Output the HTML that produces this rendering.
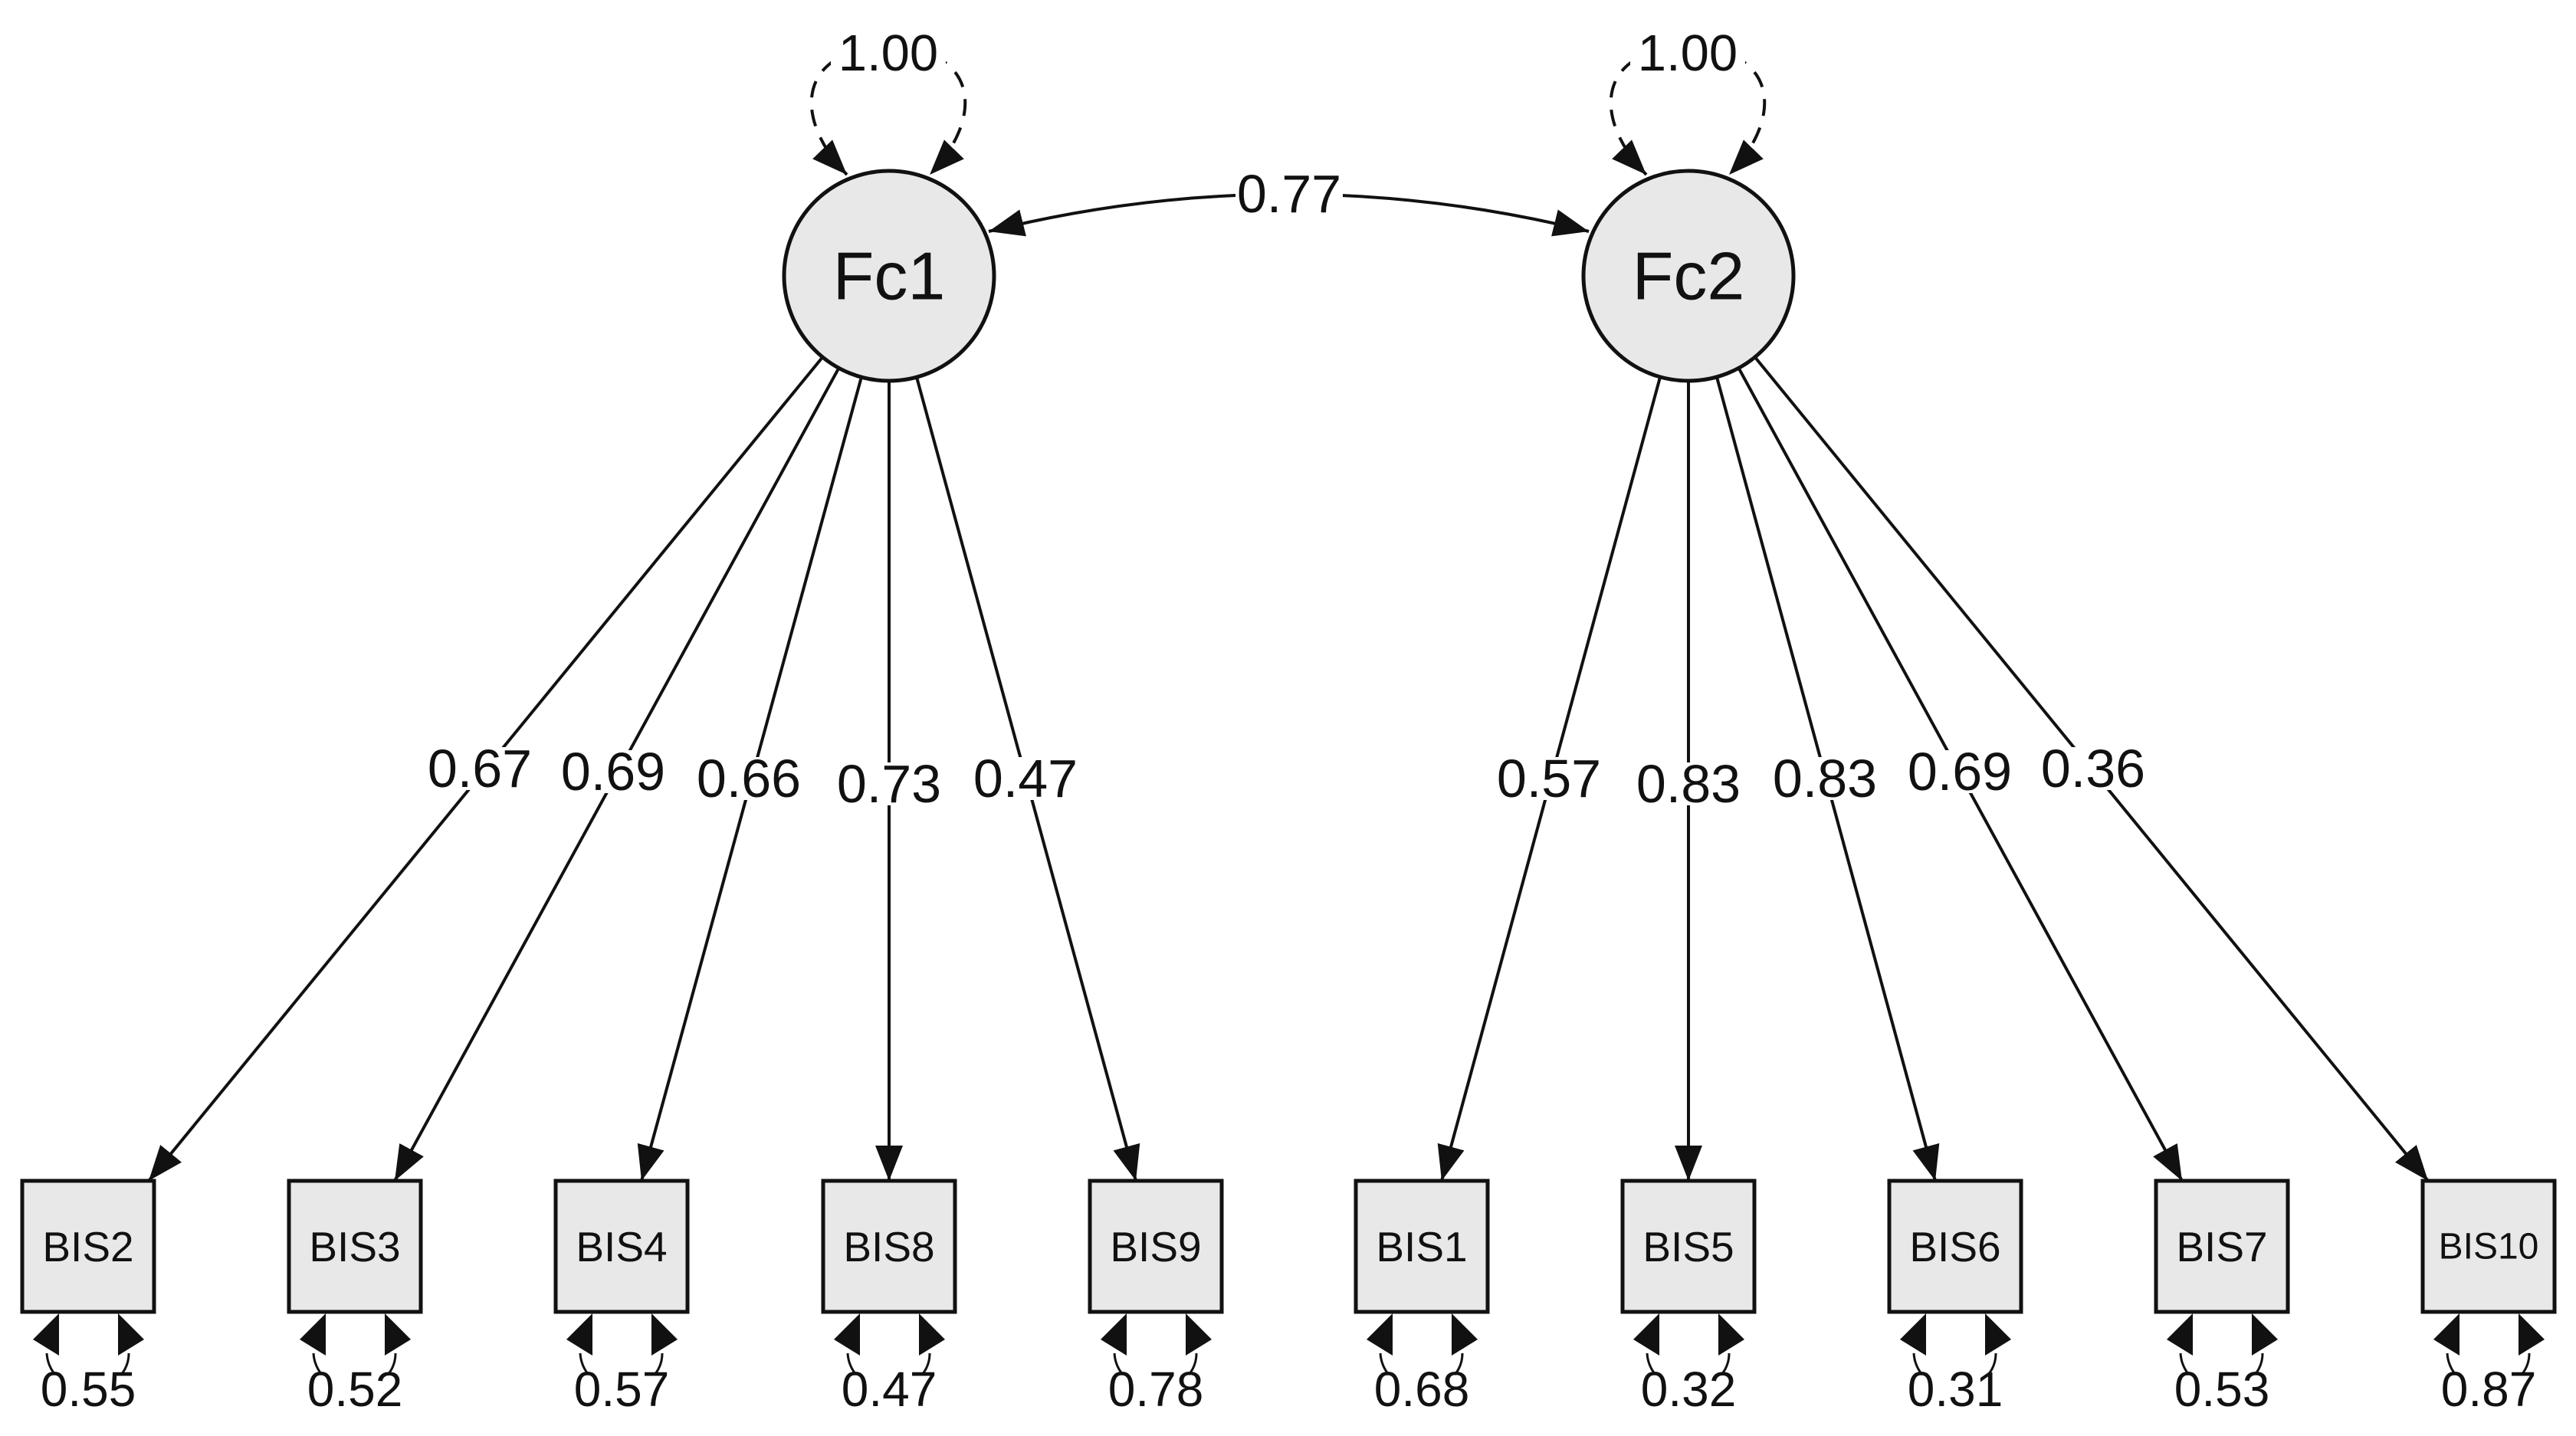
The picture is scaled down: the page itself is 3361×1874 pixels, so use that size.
<!DOCTYPE html>
<html><head><meta charset="utf-8"><style>
html,body{margin:0;padding:0;background:#fff;}
svg{display:block;}
text{font-family:"Liberation Sans",Arial,sans-serif;fill:#111;}
.lbl{font-size:70px;text-anchor:middle;dominant-baseline:central;}
.res{font-size:64px;text-anchor:middle;}
.box{fill:#e8e8e8;stroke:#111;stroke-width:5;}
.bt{font-size:55px;text-anchor:middle;dominant-baseline:central;}
.bg{fill:#fff;}
</style></head><body>
<svg width="3361" height="1874" viewBox="0 0 3361 1874" xmlns="http://www.w3.org/2000/svg">
<defs>
<marker id="ah" markerUnits="userSpaceOnUse" markerWidth="48" markerHeight="40" refX="46" refY="20" orient="auto-start-reverse">
<path d="M0,2 L46,20 L0,38 Z" fill="#111"/>
</marker>
</defs>

<!-- variance loops -->
<g fill="none" stroke="#111" stroke-width="4" stroke-dasharray="22 16">
<path d="M1105,228 C1030,150 1045,62 1159,62 C1273,62 1288,150 1213,228" marker-start="url(#ah)" marker-end="url(#ah)"/>
<path d="M2148,228 C2073,150 2088,62 2202,62 C2316,62 2331,150 2256,228" marker-start="url(#ah)" marker-end="url(#ah)"/>
</g>
<rect class="bg" x="1084" y="30" width="150" height="70"/>
<rect class="bg" x="2127" y="30" width="150" height="70"/>
<text x="1159" y="92" style="font-size:67px;text-anchor:middle">1.00</text>
<text x="2202" y="92" style="font-size:67px;text-anchor:middle">1.00</text>

<!-- covariance -->
<path d="M1290,302 Q1681,205 2073,302" fill="none" stroke="#111" stroke-width="4" marker-start="url(#ah)" marker-end="url(#ah)"/>
<rect class="bg" x="1612" y="225" width="140" height="56"/>
<text class="lbl" x="1682" y="253">0.77</text>

<!-- loadings -->
<g stroke="#111" stroke-width="4" marker-end="url(#ah)">
<line x1="1073.3" y1="466" x2="194" y2="1541"/>
<line x1="1094.4" y1="480.3" x2="515" y2="1541"/>
<line x1="1123.9" y1="492.2" x2="837" y2="1541"/>
<line x1="1160" y1="497" x2="1160" y2="1541"/>
<line x1="1196" y1="492.2" x2="1482" y2="1541"/>
<line x1="2166" y1="492.2" x2="1881" y2="1541"/>
<line x1="2203" y1="497" x2="2203" y2="1541"/>
<line x1="2240" y1="492.2" x2="2525" y2="1541"/>
<line x1="2268.5" y1="480.3" x2="2847" y2="1541"/>
<line x1="2289.7" y1="466" x2="3168" y2="1541"/>
</g>
<g class="bg">
<rect x="556" y="975" width="140" height="56"/>
<rect x="730" y="979" width="140" height="56"/>
<rect x="907" y="988" width="140" height="56"/>
<rect x="1090" y="995" width="140" height="56"/>
<rect x="1268" y="988" width="140" height="56"/>
<rect x="1951" y="988" width="140" height="56"/>
<rect x="2133" y="995" width="140" height="56"/>
<rect x="2311" y="988" width="140" height="56"/>
<rect x="2487" y="979" width="140" height="56"/>
<rect x="2661" y="975" width="140" height="56"/>
</g>
<text class="lbl" x="626" y="1003">0.67</text>
<text class="lbl" x="800" y="1007">0.69</text>
<text class="lbl" x="977" y="1016">0.66</text>
<text class="lbl" x="1160" y="1023">0.73</text>
<text class="lbl" x="1338" y="1016">0.47</text>
<text class="lbl" x="2021" y="1016">0.57</text>
<text class="lbl" x="2203" y="1023">0.83</text>
<text class="lbl" x="2381" y="1016">0.83</text>
<text class="lbl" x="2557" y="1007">0.69</text>
<text class="lbl" x="2731" y="1003">0.36</text>

<!-- latent circles -->
<circle cx="1160" cy="360" r="137" fill="#e8e8e8" stroke="#111" stroke-width="5"/>
<circle cx="2203" cy="360" r="137" fill="#e8e8e8" stroke="#111" stroke-width="5"/>
<text x="1160" y="360" style="font-size:88px;text-anchor:middle;dominant-baseline:central">Fc1</text>
<text x="2203" y="360" style="font-size:88px;text-anchor:middle;dominant-baseline:central">Fc2</text>

<!-- boxes -->
<rect class="box" x="29" y="1541" width="172" height="171"/>
<rect class="box" x="377" y="1541" width="172" height="171"/>
<rect class="box" x="725" y="1541" width="172" height="171"/>
<rect class="box" x="1074" y="1541" width="172" height="171"/>
<rect class="box" x="1422" y="1541" width="172" height="171"/>
<rect class="box" x="1769" y="1541" width="172" height="171"/>
<rect class="box" x="2117" y="1541" width="172" height="171"/>
<rect class="box" x="2465" y="1541" width="172" height="171"/>
<rect class="box" x="2813" y="1541" width="172" height="171"/>
<rect class="box" x="3161" y="1541" width="172" height="171"/>
<text class="bt" x="115" y="1627">BIS2</text>
<text class="bt" x="463" y="1627">BIS3</text>
<text class="bt" x="811" y="1627">BIS4</text>
<text class="bt" x="1160" y="1627">BIS8</text>
<text class="bt" x="1508" y="1627">BIS9</text>
<text class="bt" x="1855" y="1627">BIS1</text>
<text class="bt" x="2203" y="1627">BIS5</text>
<text class="bt" x="2551" y="1627">BIS6</text>
<text class="bt" x="2899" y="1627">BIS7</text>
<text class="bt" x="3247" y="1627" style="font-size:48px">BIS10</text>

<!-- residuals -->
<g fill="#111">
<path d="M77,1714 L77,1769 L43,1748 Z M154,1714 L154,1769 L188,1748 Z"/>
<path d="M425,1714 L425,1769 L391,1748 Z M502,1714 L502,1769 L536,1748 Z"/>
<path d="M773,1714 L773,1769 L739,1748 Z M850,1714 L850,1769 L884,1748 Z"/>
<path d="M1122,1714 L1122,1769 L1088,1748 Z M1199,1714 L1199,1769 L1233,1748 Z"/>
<path d="M1470,1714 L1470,1769 L1436,1748 Z M1547,1714 L1547,1769 L1581,1748 Z"/>
<path d="M1817,1714 L1817,1769 L1783,1748 Z M1894,1714 L1894,1769 L1928,1748 Z"/>
<path d="M2165,1714 L2165,1769 L2131,1748 Z M2242,1714 L2242,1769 L2276,1748 Z"/>
<path d="M2513,1714 L2513,1769 L2479,1748 Z M2590,1714 L2590,1769 L2624,1748 Z"/>
<path d="M2861,1714 L2861,1769 L2827,1748 Z M2938,1714 L2938,1769 L2972,1748 Z"/>
<path d="M3209,1714 L3209,1769 L3175,1748 Z M3286,1714 L3286,1769 L3320,1748 Z"/>
</g>
<g stroke="#111" stroke-width="3" fill="none">
<path d="M61,1766 Q62,1782 72,1794 M168,1766 Q168,1782 158,1794"/>
<path d="M409,1766 Q410,1782 420,1794 M516,1766 Q516,1782 506,1794"/>
<path d="M757,1766 Q758,1782 768,1794 M864,1766 Q864,1782 854,1794"/>
<path d="M1106,1766 Q1107,1782 1117,1794 M1213,1766 Q1213,1782 1203,1794"/>
<path d="M1454,1766 Q1455,1782 1465,1794 M1561,1766 Q1561,1782 1551,1794"/>
<path d="M1801,1766 Q1802,1782 1812,1794 M1908,1766 Q1908,1782 1898,1794"/>
<path d="M2149,1766 Q2150,1782 2160,1794 M2256,1766 Q2256,1782 2246,1794"/>
<path d="M2497,1766 Q2498,1782 2508,1794 M2604,1766 Q2604,1782 2594,1794"/>
<path d="M2845,1766 Q2846,1782 2856,1794 M2952,1766 Q2952,1782 2942,1794"/>
<path d="M3193,1766 Q3194,1782 3204,1794 M3300,1766 Q3300,1782 3290,1794"/>
</g>
<text class="res" x="115" y="1835">0.55</text>
<text class="res" x="463" y="1835">0.52</text>
<text class="res" x="811" y="1835">0.57</text>
<text class="res" x="1160" y="1835">0.47</text>
<text class="res" x="1508" y="1835">0.78</text>
<text class="res" x="1855" y="1835">0.68</text>
<text class="res" x="2203" y="1835">0.32</text>
<text class="res" x="2551" y="1835">0.31</text>
<text class="res" x="2899" y="1835">0.53</text>
<text class="res" x="3247" y="1835">0.87</text>
</svg>
</body></html>
